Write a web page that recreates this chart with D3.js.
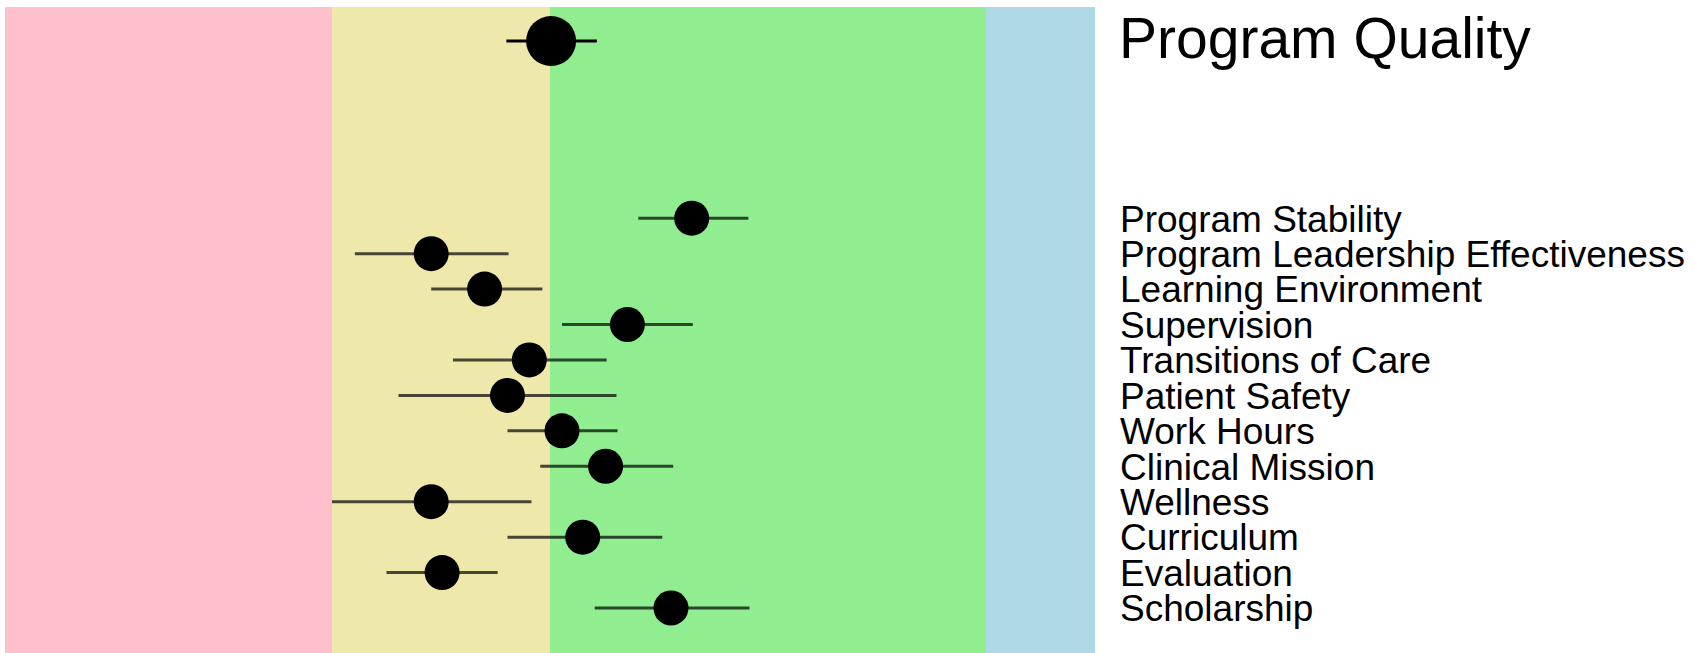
<!DOCTYPE html>
<html>
<head>
<meta charset="utf-8">
<script src="https://cdn.jsdelivr.net/npm/d3@7"></script>
<style>
  html, body { margin: 0; padding: 0; background: #ffffff; }
  svg { display: block; }
</style>
</head>
<body>
<div id="chart"></div>
<script>
// Overall score, shown on the top row
const overallLabel = "Program Quality";
const overallEstimate = 50.1;
const overallLower = 46.0;
const overallUpper = 54.3;

// Domain scores (percentile estimate with interval)
const domains = [
  "Program Stability",
  "Program Leadership Effectiveness",
  "Learning Environment",
  "Supervision",
  "Transitions of Care",
  "Patient Safety",
  "Work Hours",
  "Clinical Mission",
  "Wellness",
  "Curriculum",
  "Evaluation",
  "Scholarship"
];
const estimates = [63.0, 39.1, 44.0, 57.1, 48.1, 46.1, 51.1, 55.1, 39.1, 53.0, 40.1, 61.1];
const lowers    = [58.1, 32.1, 39.1, 51.1, 41.1, 36.1, 46.1, 49.1, 30.0, 46.1, 35.0, 54.1];
const uppers    = [68.2, 46.2, 49.3, 63.1, 55.2, 56.1, 56.2, 61.3, 48.3, 60.3, 45.2, 68.3];

// Percentile bands behind the points
const bandBreaks = [0, 30, 50, 90, 100];
const bandFills = ["#ffc0cb", "#eee8aa", "#90ee90", "#add8e6"];

const width = 1694, height = 653;
const plot = { left: 5, right: 1095, top: 7, bottom: 653 };

const svg = d3.select("#chart").append("svg")
  .attr("width", width)
  .attr("height", height);

const x = d3.scaleLinear().domain([0, 100]).range([plot.left, plot.right]);
// Row positions: overall on row 0, domains on rows 5..16
const y = d3.scaleLinear().domain([0, 16]).range([41, 608]);

const bands = d3.range(bandFills.length).map(i => ({
  from: bandBreaks[i], to: bandBreaks[i + 1], fill: bandFills[i]
}));

svg.append("g").selectAll("rect")
  .data(bands)
  .join("rect")
  .attr("x", d => x(d.from))
  .attr("width", d => x(d.to) - x(d.from))
  .attr("y", plot.top)
  .attr("height", plot.bottom - plot.top)
  .attr("fill", d => d.fill);

const rows = [{ label: overallLabel, est: overallEstimate, lo: overallLower, hi: overallUpper, row: 0, big: true }]
  .concat(domains.map((name, i) => ({
    label: name, est: estimates[i], lo: lowers[i], hi: uppers[i], row: 5 + i, big: false
  })));

const marks = svg.append("g");

marks.selectAll("line")
  .data(rows)
  .join("line")
  .attr("x1", d => x(d.lo))
  .attr("x2", d => x(d.hi))
  .attr("y1", d => y(d.row))
  .attr("y2", d => y(d.row))
  .attr("stroke", "#000")
  .attr("stroke-opacity", d => d.big ? 1 : 0.7)
  .attr("stroke-width", 3);

marks.selectAll("circle")
  .data(rows)
  .join("circle")
  .attr("cx", d => x(d.est))
  .attr("cy", d => y(d.row))
  .attr("r", d => d.big ? 25 : 17.5)
  .attr("fill", "#000");

// Title and row labels to the right of the panel
svg.append("text")
  .attr("x", 1119)
  .attr("y", 58)
  .attr("font-family", "'Liberation Sans', Arial, sans-serif")
  .attr("font-size", 57)
  .attr("fill", "#000")
  .text(overallLabel);

svg.append("g").selectAll("text")
  .data(rows.filter(d => !d.big))
  .join("text")
  .attr("x", 1120)
  .attr("y", d => y(d.row))
  .attr("dy", "0.36em")
  .attr("font-family", "'Liberation Sans', Arial, sans-serif")
  .attr("font-size", 37)
  .attr("fill", "#000")
  .text(d => d.label);
</script>
</body>
</html>
